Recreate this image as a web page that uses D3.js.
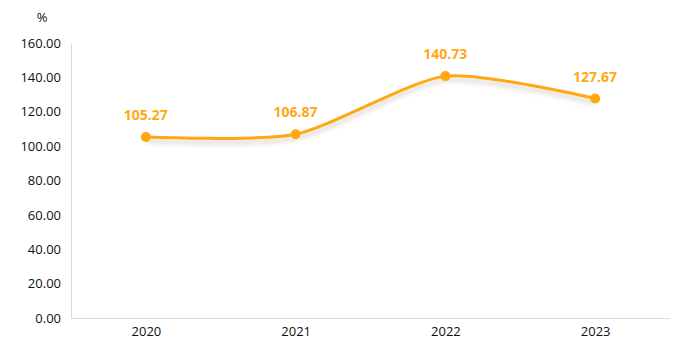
<!DOCTYPE html>
<html><head><meta charset="utf-8">
<script src="https://cdn.jsdelivr.net/npm/d3@7"></script>
<style>body{margin:0;background:#fff}svg{display:block}</style>
</head><body>
<svg id="c" width="690" height="361"></svg>
<script>
const categories = ["2020","2021","2022","2023"];
const values = [105.27, 106.87, 140.73, 127.67];
const yTicks = [0,20,40,60,80,100,120,140,160];
const unitLabel = "%";

const svg = d3.select("#c");
const m = {l:71, r:20, t:43, b:43};
const W = 690, H = 361;
const color = "#FFA812";
const font = "'Open Sans','Noto Sans',sans-serif";

const x = d3.scalePoint().domain(categories).range([m.l, W-m.r]).padding(0.5);
const y = d3.scaleLinear().domain([0,160]).range([H-m.b, m.t]);

const defs = svg.append("defs");
const f = defs.append("filter").attr("id","sh").attr("x","-10%").attr("y","-50%").attr("width","120%").attr("height","200%");
f.append("feDropShadow").attr("dx",0).attr("dy",4).attr("stdDeviation",2.5).attr("flood-color","#8a7a50").attr("flood-opacity",0.35);

// axes
const ya = svg.append("g").attr("transform",`translate(${m.l},0)`)
  .call(d3.axisLeft(y).tickValues(yTicks).tickFormat(d3.format(".2f")).tickSize(0).tickPadding(10));
ya.select(".domain").attr("stroke","#d9d9d9");
ya.selectAll("text").attr("font-family",font).attr("font-size",13).attr("fill","#111");

const xa = svg.append("g").attr("transform",`translate(0,${H-m.b})`)
  .call(d3.axisBottom(x).tickSize(0).tickPadding(9));
xa.select(".domain").attr("stroke","#d9d9d9").attr("d",`M${m.l},0.5H${W-m.r}`);
xa.selectAll("text").attr("font-family",font).attr("font-size",13).attr("fill","#111");

svg.append("text").attr("x",42).attr("y",22).attr("text-anchor","middle")
  .attr("font-family",font).attr("font-size",13).attr("fill","#111").text(unitLabel);

const line = d3.line().x((d,i)=>x(categories[i])).y(d=>y(d)).curve(d3.curveCardinal.tension(0.3));
svg.append("path").datum(values).attr("d",line).attr("fill","none")
  .attr("stroke",color).attr("stroke-width",3).attr("filter","url(#sh)");

svg.selectAll("circle.p").data(values).join("circle")
  .attr("cx",(d,i)=>x(categories[i])).attr("cy",d=>y(d)).attr("r",5).attr("fill",color);

svg.selectAll("text.lbl").data(values).join("text")
  .attr("x",(d,i)=>x(categories[i])).attr("y",d=>y(d)-17).attr("text-anchor","middle")
  .attr("font-family",font).attr("font-size",14).attr("font-weight","bold").attr("fill",color)
  .text(d=>d.toFixed(2));
</script>
</body></html>
